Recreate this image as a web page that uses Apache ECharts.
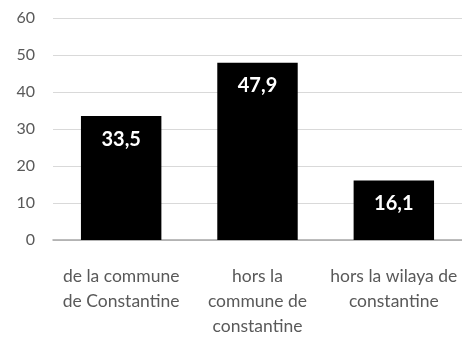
<!DOCTYPE html>
<html>
<head>
<meta charset="utf-8">
<script src="https://cdn.jsdelivr.net/npm/echarts@6/dist/echarts.min.js"></script>
<style>
  html, body { margin: 0; padding: 0; background: #ffffff; }
  #chart { width: 462px; height: 339px; }
</style>
</head>
<body>
<div id="chart"></div>
<script>
// Origine des étudiants (%)
var categories = [
  'de la commune\nde Constantine',
  'hors la\ncommune de\nconstantine',
  'hors la wilaya de\nconstantine'
];
var values = [33.5, 47.9, 16.1];
var yTicks = { min: 0, max: 60, interval: 10 };

var fontFamily = 'Lato, "Open Sans", sans-serif';

var chart = echarts.init(document.getElementById('chart'));
chart.setOption({
  animation: false,
  grid: { left: 53, top: 18, width: 413, bottom: 99, containLabel: false },
  xAxis: {
    type: 'category',
    data: categories,
    axisLine: { lineStyle: { color: '#a6a6a6', width: 1.5 } },
    axisTick: { show: false },
    axisLabel: {
      color: '#595959',
      fontSize: 17.5,
      lineHeight: 25,
      margin: 24,
      fontFamily: fontFamily,
      interval: 0
    }
  },
  yAxis: {
    type: 'value',
    min: yTicks.min,
    max: yTicks.max,
    interval: yTicks.interval,
    axisLine: { show: false },
    axisTick: { show: false },
    splitLine: { lineStyle: { color: '#d9d9d9', width: 1 } },
    axisLabel: {
      color: '#595959',
      fontSize: 16,
      margin: 18,
      fontFamily: fontFamily
    }
  },
  series: [{
    type: 'bar',
    data: values,
    barWidth: '59%',
    itemStyle: { color: '#000000' },
    label: {
      show: true,
      position: 'insideTop',
      distance: 13,
      color: '#ffffff',
      fontWeight: 'bold',
      fontSize: 20,
      fontFamily: fontFamily,
      formatter: function (p) { return String(p.value).replace('.', ','); }
    }
  }]
});
</script>
</body>
</html>
